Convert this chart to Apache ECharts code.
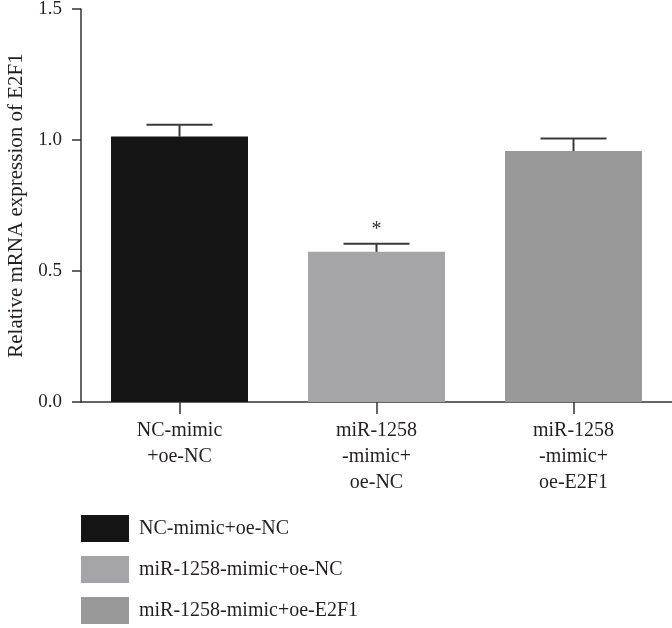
<!DOCTYPE html>
<html>
<head>
<meta charset="utf-8">
<script src="https://cdn.jsdelivr.net/npm/echarts@6/dist/echarts.min.js"></script>
<style>html,body{margin:0;padding:0;background:#fff}#c{width:672px;height:628px}</style>
</head>
<body>
<div id="c"></div>
<script>
const categories = ['NC-mimic\n+oe-NC', 'miR-1258\n-mimic+\noe-NC', 'miR-1258\n-mimic+\noe-E2F1'];
const groupNames = ['NC-mimic+oe-NC', 'miR-1258-mimic+oe-NC', 'miR-1258-mimic+oe-E2F1'];
const means = [1.013, 0.573, 0.958];
const sds = [0.045, 0.031, 0.048];
const significance = ['', '*', ''];
const yTicks = [0, 0.5, 1.0, 1.5];
const colors = ['#141414', '#a5a4a6', '#999999'];

const FONT = '"Liberation Serif", "Times New Roman", serif';
const TXT = '#231f20';

const barSeries = groupNames.map((name, i) => ({
  name: name,
  type: 'bar',
  barWidth: 137,
  barGap: '-100%',
  itemStyle: { color: colors[i] },
  data: categories.map((c, j) => (j === i ? means[i] : '-')),
  z: 2
}));

const errData = means.map((m, i) => [i, m, sds[i]]);

const errSeries = {
  type: 'custom',
  name: 'err',
  z: 5,
  silent: true,
  encode: { x: 0, y: 1 },
  data: errData,
  renderItem: function (params, api) {
    const idx = api.value(0);
    const m = api.value(1);
    const sd = api.value(2);
    const base = api.coord([idx, m]);
    const top = api.coord([idx, m + sd]);
    const half = 33;
    const children = [
      { type: 'line', shape: { x1: base[0], y1: base[1], x2: top[0], y2: top[1] },
        style: { stroke: '#3a3a3a', lineWidth: 2 } },
      { type: 'line', shape: { x1: top[0] - half, y1: top[1], x2: top[0] + half, y2: top[1] },
        style: { stroke: '#3a3a3a', lineWidth: 2 } }
    ];
    const s = significance[params.dataIndex];
    if (s) {
      children.push({ type: 'text', style: { text: s, x: top[0], y: top[1] - 14, align: 'center', verticalAlign: 'middle',
        font: '20px ' + FONT, fill: '#333' } });
    }
    return { type: 'group', children: children };
  }
};

const chart = echarts.init(document.getElementById('c'), null, { renderer: 'canvas' });
chart.setOption({
  animation: false,
  backgroundColor: '#fff',
  grid: { left: 81, right: 0, top: 9, bottom: 226, containLabel: false, outerBoundsMode: 'none' },
  legend: {
    orient: 'vertical',
    left: 81,
    top: 515,
    height: 113,
    padding: 0,
    itemWidth: 48,
    itemHeight: 27,
    itemGap: 14,
    icon: 'rect',
    data: groupNames,
    selectedMode: false,
    textStyle: { fontFamily: FONT, fontSize: 20, color: TXT, padding: [0, 0, 0, 5] }
  },
  xAxis: {
    type: 'category',
    data: categories,
    axisLine: { lineStyle: { color: '#333', width: 1.5 } },
    axisTick: { show: true, alignWithLabel: true, length: 12, lineStyle: { color: '#333', width: 1.5 },
      interval: 0 },
    axisLabel: { interval: 0, margin: 16, fontFamily: FONT, fontSize: 20, lineHeight: 26, color: TXT },
    splitLine: { show: false }
  },
  yAxis: {
    type: 'value',
    min: 0,
    max: 1.5,
    interval: 0.5,
    name: 'Relative mRNA expression of E2F1',
    nameLocation: 'middle',
    nameGap: 51,
    nameTextStyle: { fontFamily: FONT, fontSize: 21, color: TXT },
    axisLine: { show: true, lineStyle: { color: '#333', width: 1.5 } },
    axisTick: { show: true, length: 9, lineStyle: { color: '#333', width: 1.5 } },
    axisLabel: { margin: 19, fontFamily: FONT, fontSize: 19, color: TXT,
      formatter: v => (yTicks.indexOf(v) >= 0 ? v.toFixed(1) : '') },
    splitLine: { show: false }
  },
  series: barSeries.concat([errSeries])
});
</script>
</body>
</html>
